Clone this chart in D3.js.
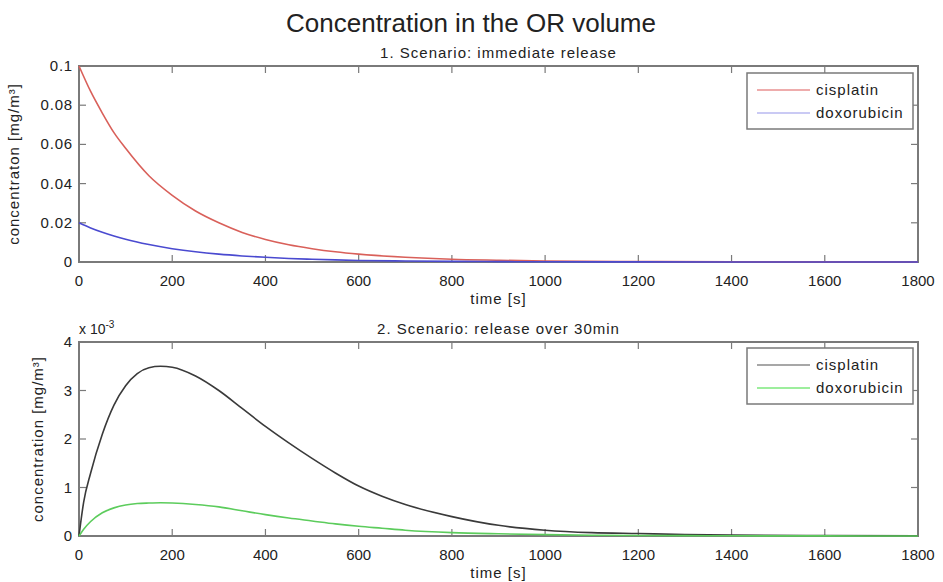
<!DOCTYPE html>
<html>
<head>
<meta charset="utf-8">
<script src="https://cdn.jsdelivr.net/npm/d3@7"></script>
<style>
  body { margin: 0; background: #fff; }
  text { font-family: "Liberation Sans", Arial, sans-serif; fill: #222; }
</style>
</head>
<body>
<div id="chart"></div>
<script>
var svgWidth = 943;
var svgHeight = 582;

// time axis [s]
var xTicks = [0, 200, 400, 600, 800, 1000, 1200, 1400, 1600, 1800];

// scenario 1: immediate release [mg/m3]
var t1 = [0, 25, 50, 75, 100, 150, 200, 250, 300, 350, 400, 450, 500, 550, 600, 700, 800, 900, 1000, 1200, 1400, 1600, 1800];
var cisplatin1 = [0.1, 0.087, 0.076, 0.066, 0.058, 0.044, 0.034, 0.026, 0.020, 0.0151, 0.0115, 0.0088, 0.0068, 0.0052, 0.004, 0.0024, 0.0014, 0.0009, 0.0005, 0.0002, 0.0001, 0.00004, 0.00002];
var doxorubicin1 = [0.02, 0.0174, 0.0152, 0.0133, 0.0116, 0.0089, 0.0068, 0.0052, 0.0040, 0.0031, 0.0024, 0.0018, 0.0014, 0.0011, 0.0008, 0.0005, 0.0003, 0.0002, 0.0001, 0.00004, 0.00002, 0.00001, 0];
var yTicks1 = [0, 0.02, 0.04, 0.06, 0.08, 0.1];

// scenario 2: release over 30 min [x 10^-3 mg/m3]
var t2 = [0, 10, 25, 50, 75, 100, 125, 150, 175, 200, 250, 300, 350, 400, 450, 500, 550, 600, 650, 700, 800, 900, 1000, 1100, 1200, 1300, 1400, 1600, 1800];
var cisplatin2 = [0, 0.7, 1.3, 2.1, 2.7, 3.1, 3.35, 3.47, 3.5, 3.48, 3.3, 3.0, 2.63, 2.26, 1.92, 1.6, 1.3, 1.03, 0.82, 0.65, 0.4, 0.22, 0.12, 0.07, 0.05, 0.03, 0.02, 0.01, 0.005];
var doxorubicin2 = [0, 0.14, 0.3, 0.48, 0.58, 0.64, 0.67, 0.68, 0.685, 0.68, 0.65, 0.6, 0.52, 0.44, 0.37, 0.31, 0.25, 0.2, 0.16, 0.12, 0.07, 0.045, 0.028, 0.017, 0.011, 0.007, 0.004, 0.002, 0.001];
var yTicks2 = [0, 1, 2, 3, 4];

var seriesNames = ["cisplatin", "doxorubicin"];

var svg = d3.select("#chart")
  .append("svg")
  .attr("width", svgWidth)
  .attr("height", svgHeight);

// main title
svg.append("text")
  .attr("x", 471)
  .attr("y", 32)
  .attr("text-anchor", "middle")
  .attr("font-size", "26px")
  .text("Concentration in the OR volume");

function drawPanel(opts) {
  var left = 79, right = 918;
  var top = opts.top, bottom = opts.bottom;
  var w = right - left, h = bottom - top;

  var g = svg.append("g")
    .attr("transform", `translate(${left}, ${top})`);

  var x = d3.scaleLinear().domain([0, 1800]).range([0, w]);
  var y = d3.scaleLinear().domain(opts.yDomain).range([h, 0]);

  // frame
  g.append("rect")
    .attr("width", w)
    .attr("height", h)
    .attr("fill", "#fff")
    .attr("stroke", "#7a7a7a")
    .attr("stroke-width", 2);

  // inward ticks on all sides
  var tl = 7;
  var tickG = g.append("g").attr("stroke", "#7a7a7a").attr("stroke-width", 1.2);
  xTicks.forEach(function(d) {
    tickG.append("line").attr("x1", x(d)).attr("x2", x(d)).attr("y1", h).attr("y2", h - tl);
    tickG.append("line").attr("x1", x(d)).attr("x2", x(d)).attr("y1", 0).attr("y2", tl);
  });
  opts.yTicks.forEach(function(d) {
    tickG.append("line").attr("x1", 0).attr("x2", tl).attr("y1", y(d)).attr("y2", y(d));
    tickG.append("line").attr("x1", w).attr("x2", w - tl).attr("y1", y(d)).attr("y2", y(d));
  });

  // tick labels
  g.selectAll(".xlab")
    .data(xTicks)
    .enter()
    .append("text")
    .attr("x", d => x(d))
    .attr("y", h + 24)
    .attr("text-anchor", "middle")
    .attr("font-size", "15px")
    .text(d => d);

  g.selectAll(".ylab")
    .data(opts.yTicks)
    .enter()
    .append("text")
    .attr("x", -6)
    .attr("y", d => y(d) + 5)
    .attr("text-anchor", "end")
    .attr("font-size", "15px")
    .attr("letter-spacing", "0.8px")
    .text(d => String(d));

  // lines
  var line = d3.line()
    .x(d => x(d[0]))
    .y(d => y(d[1]))
    .curve(d3.curveMonotoneX);

  opts.series.forEach(function(s) {
    g.append("path")
      .datum(opts.t.map((t, i) => [t, s.values[i]]))
      .attr("fill", "none")
      .attr("stroke", s.color)
      .attr("stroke-width", 1.6)
      .attr("d", line);
  });

  // axis labels
  g.append("text")
    .attr("x", w / 2)
    .attr("y", h + 42)
    .attr("text-anchor", "middle")
    .attr("font-size", "15px")
    .attr("letter-spacing", "1px")
    .text("time [s]");

  g.append("text")
    .attr("transform", "rotate(-90)")
    .attr("x", -h / 2)
    .attr("y", opts.yLabelX)
    .attr("text-anchor", "middle")
    .attr("font-size", "15px")
    .attr("letter-spacing", "1px")
    .text(opts.yLabel);

  g.append("text")
    .attr("x", w / 2)
    .attr("y", -8)
    .attr("text-anchor", "middle")
    .attr("font-size", "15px")
    .attr("letter-spacing", "1px")
    .text(opts.subtitle);

  // legend
  var lg = g.append("g").attr("transform", `translate(${w - 171}, ${opts.legendY})`);
  lg.append("rect")
    .attr("width", 166)
    .attr("height", 56)
    .attr("fill", "#fff")
    .attr("stroke", "#7a7a7a")
    .attr("stroke-width", 1.5);
  opts.series.forEach(function(s, i) {
    var ly = 17 + i * 23;
    lg.append("line")
      .attr("x1", 10).attr("x2", 63)
      .attr("y1", ly).attr("y2", ly)
      .attr("stroke", s.legendColor)
      .attr("stroke-width", 1.5);
    lg.append("text")
      .attr("x", 69)
      .attr("y", ly + 5)
      .attr("font-size", "15px")
      .attr("letter-spacing", "1px")
      .text(s.name);
  });

  return g;
}

drawPanel({
  top: 66, bottom: 262,
  yDomain: [0, 0.1],
  yTicks: yTicks1,
  t: t1,
  yLabel: "concentraton [mg/m\u00b3]",
  yLabelX: -60,
  subtitle: "1. Scenario: immediate release",
  legendY: 7,
  series: [
    { name: seriesNames[0], values: cisplatin1, color: "#d9605a", legendColor: "#e89090" },
    { name: seriesNames[1], values: doxorubicin1, color: "#4a4ad0", legendColor: "#b8b8f0" }
  ]
});

var g2 = drawPanel({
  top: 342, bottom: 536,
  yDomain: [0, 4],
  yTicks: yTicks2,
  t: t2,
  yLabel: "concentration [mg/m\u00b3]",
  yLabelX: -36,
  subtitle: "2. Scenario: release over 30min",
  legendY: 6,
  series: [
    { name: seriesNames[0], values: cisplatin2, color: "#3a3a3a", legendColor: "#8a8a8a" },
    { name: seriesNames[1], values: doxorubicin2, color: "#5ccc5c", legendColor: "#7de87d" }
  ]
});

// exponent label
var expLabel = g2.append("text")
  .attr("x", 0)
  .attr("y", -8)
  .attr("font-size", "14px");
expLabel.append("tspan").text("x 10");
expLabel.append("tspan").attr("dy", -6).attr("font-size", "10px").text("-3");
</script>
</body>
</html>
